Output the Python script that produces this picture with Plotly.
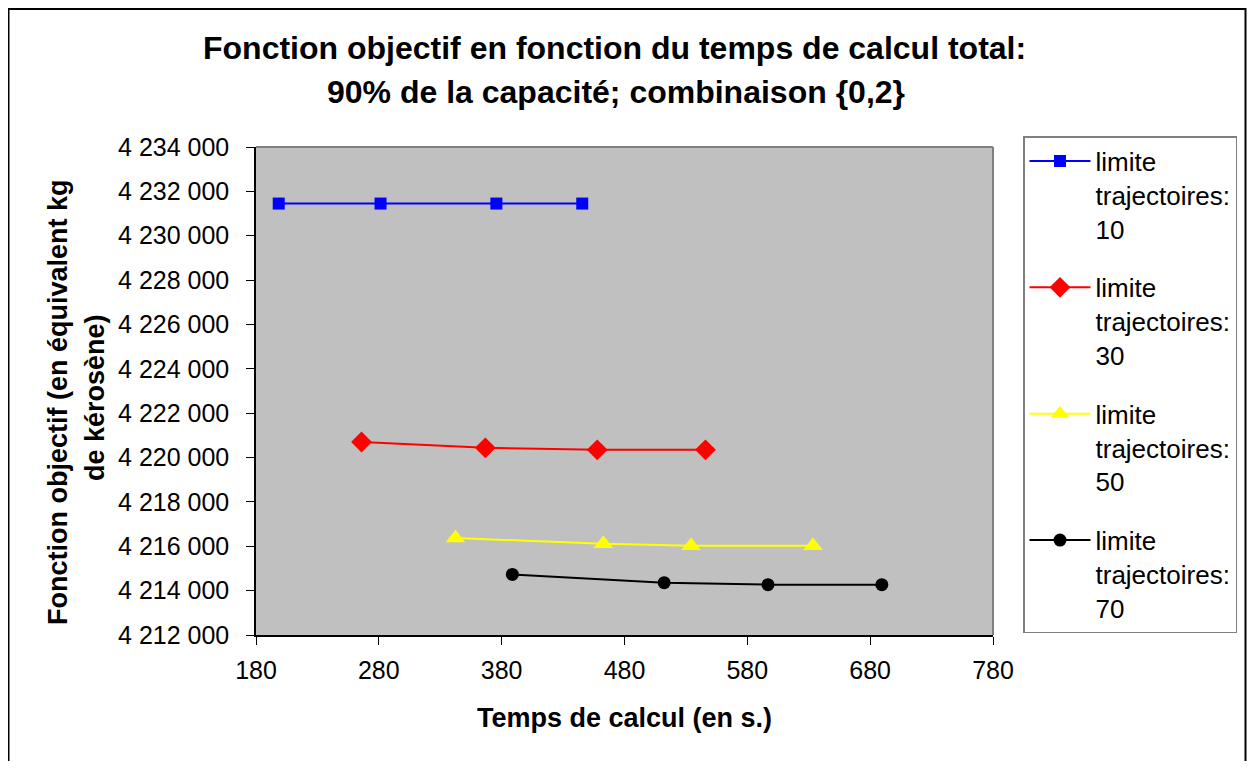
import plotly.graph_objects as go

# Data
temps_10 = [198.5, 281.4, 375.7, 445.6]
obj_10 = [4231450, 4231450, 4231450, 4231450]

temps_30 = [265.9, 366.7, 457.8, 545.9]
obj_30 = [4220700, 4220440, 4220350, 4220350]

temps_50 = [342.4, 462.8, 534.2, 633.4]
obj_50 = [4216370, 4216110, 4216020, 4216020]

temps_70 = [388.7, 512.3, 596.8, 689.5]
obj_70 = [4214730, 4214360, 4214270, 4214270]

series_names = ["limite<br>trajectoires:<br>10", "limite<br>trajectoires:<br>30",
                "limite<br>trajectoires:<br>50", "limite<br>trajectoires:<br>70"]
title_line1 = "Fonction objectif en fonction du temps de calcul total:"
title_line2 = "90% de la capacité; combinaison {0,2}"
x_title = "Temps de calcul (en s.)"
y_title1 = "Fonction objectif (en équivalent kg"
y_title2 = "de kérosène)"

FONT = "Arial, Liberation Sans, sans-serif"
OFF = 8  # page body margin
W, H = 1239, 753
# plot area in reference pixels: x 256..993, y 147..635
L = 256 - OFF
R = W - (993 - OFF)
T = 147 - OFF
B = H - (635 - OFF)
pw, ph = W - L - R, H - T - B


def px_x(p):
    return (p - OFF - L) / pw


def px_y(p):
    return (H - B - (p - OFF)) / ph


fig = go.Figure()
specs = [
    (temps_10, obj_10, series_names[0], "#0000FF", "square", 12),
    (temps_30, obj_30, series_names[1], "#FF0000", "diamond", 16),
    (temps_50, obj_50, series_names[2], "#FFFF00", "triangle-up", 17),
    (temps_70, obj_70, series_names[3], "#000000", "circle", 13),
]
for i, (xs, ys, name, col, sym, sz) in enumerate(specs):
    fig.add_trace(go.Scatter(
        x=xs, y=ys, name=name, mode="lines+markers",
        line=dict(color=col, width=2),
        marker=dict(color=col, symbol=sym, size=sz, line=dict(width=0)),
        legendgroup=f"g{i}",
    ))

fig.update_layout(
    width=W, height=H,
    margin=dict(l=L, r=R, t=T, b=B, autoexpand=False),
    paper_bgcolor="white",
    plot_bgcolor="#C0C0C0",
    separators=", ",
    font=dict(family=FONT, color="black"),
    showlegend=True,
    legend=dict(
        xref="container", yref="container",
        x=(1023 - OFF) / W, y=1 - (136 - OFF) / H, xanchor="left", yanchor="top",
        bgcolor="white", bordercolor="#808080", borderwidth=1.5,
        font=dict(family=FONT, size=26, color="black"),
        valign="top", tracegroupgap=22, itemwidth=61,
        maxheight=620,
    ),
    xaxis=dict(
        range=[180, 780], tick0=180, dtick=100, showgrid=False, zeroline=False,
        showline=True, linecolor="black", linewidth=1.5,
        ticks="outside", ticklen=8, tickcolor="black", tickwidth=1,
        tickfont=dict(family=FONT, size=25, color="black"),
        ticklabelstandoff=4,
    ),
    yaxis=dict(
        range=[4212000, 4234000], tick0=4212000, dtick=2000, showgrid=False, zeroline=False,
        showline=True, linecolor="black", linewidth=1.5,
        ticks="outside", ticklen=8, tickcolor="black", tickwidth=1,
        tickformat=",d",
        tickfont=dict(family=FONT, size=25, color="black"),
        ticklabelstandoff=12,
    ),
    shapes=[
        # plot area border (top and right)
        dict(type="line", xref="paper", yref="paper", x0=0, x1=1, y0=1, y1=1,
             line=dict(color="#808080", width=2)),
        dict(type="line", xref="paper", yref="paper", x0=1, x1=1, y0=0, y1=1,
             line=dict(color="#808080", width=2)),
        # outer chart border
        dict(type="rect", xref="paper", yref="paper",
             x0=px_x(OFF + 0.5), x1=px_x(OFF + W - 1.5), y0=px_y(790), y1=px_y(OFF + 1),
             line=dict(color="black", width=2), fillcolor="rgba(0,0,0,0)"),
    ],
    annotations=[
        dict(text=f"<b>{title_line1}</b>", xref="paper", yref="paper",
             x=px_x(614), y=px_y(48), xanchor="center", yanchor="middle",
             showarrow=False, font=dict(family=FONT, size=32, color="black")),
        dict(text=f"<b>{title_line2}</b>", xref="paper", yref="paper",
             x=px_x(616), y=px_y(92), xanchor="center", yanchor="middle",
             showarrow=False, font=dict(family=FONT, size=32, color="black")),
        dict(text=f"<b>{x_title}</b>", xref="paper", yref="paper",
             x=px_x(624), y=px_y(718), xanchor="center", yanchor="middle",
             showarrow=False, font=dict(family=FONT, size=27, color="black")),
        dict(text=f"<b>{y_title1}</b>", xref="paper", yref="paper",
             x=px_x(58), y=px_y(402), xanchor="center", yanchor="middle",
             textangle=-90, showarrow=False, font=dict(family=FONT, size=27, color="black")),
        dict(text=f"<b>{y_title2}</b>", xref="paper", yref="paper",
             x=px_x(95), y=px_y(398), xanchor="center", yanchor="middle",
             textangle=-90, showarrow=False, font=dict(family=FONT, size=27, color="black")),
    ],
)

fig.write_html("out.html")
